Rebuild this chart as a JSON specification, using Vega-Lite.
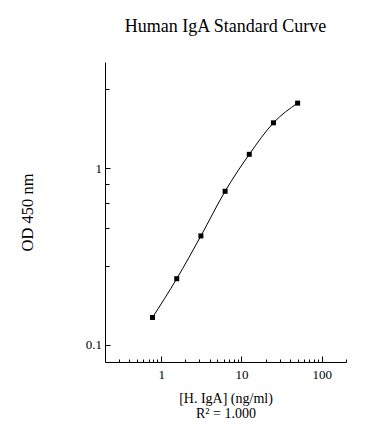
{
  "$schema": "https://vega.github.io/schema/vega-lite/v6.json",
  "width": 241,
  "height": 300,
  "autosize": {"type": "none"},
  "padding": {"left": 105, "top": 62, "right": 42, "bottom": 82},
  "background": "white",
  "title": {
    "text": "Human IgA Standard Curve",
    "font": "Liberation Serif",
    "fontSize": 18,
    "fontWeight": "normal",
    "color": "black",
    "anchor": "middle",
    "offset": 12,
    "baseline": "alphabetic"
  },
  "config": {
    "view": {"stroke": null},
    "axis": {
      "labelFont": "Liberation Serif",
      "titleFont": "Liberation Serif",
      "labelColor": "black",
      "titleColor": "black",
      "domainColor": "black",
      "tickColor": "black",
      "domainWidth": 1,
      "tickWidth": 1,
      "grid": false,
      "titleFontWeight": "normal",
      "labelOverlap": false,
      "labelFlush": false
    }
  },
  "data": {
    "values": [
      {"conc": 0.78125, "od": 0.143},
      {"conc": 1.5625, "od": 0.237},
      {"conc": 3.125, "od": 0.414},
      {"conc": 6.25, "od": 0.741},
      {"conc": 12.5, "od": 1.2},
      {"conc": 25, "od": 1.81},
      {"conc": 50, "od": 2.34}
    ]
  },
  "encoding": {
    "x": {
      "field": "conc",
      "type": "quantitative",
      "scale": {"type": "log", "domain": [0.2, 200]},
      "axis": {
        "values": [0.3, 0.4, 0.5, 0.6, 0.7, 0.8, 0.9, 1, 2, 3, 4, 5, 6, 7, 8, 9, 10, 20, 30, 40, 50, 60, 70, 80, 90, 100, 200],
        "tickSize": {"condition": {"test": "datum.value == 1 || datum.value == 10 || datum.value == 100", "value": -6}, "value": -3},
        "labelExpr": "datum.value == 1 || datum.value == 10 || datum.value == 100 ? '' + datum.value : ''",
        "labelFontSize": 13,
        "labelPadding": 12,
        "title": ["[H. IgA] (ng/ml)", "R² = 1.000"],
        "titleFontSize": 14,
        "titleLineHeight": 15,
        "titlePadding": 7
      }
    },
    "y": {
      "field": "od",
      "type": "quantitative",
      "scale": {"type": "log", "domain": [0.08, 4]},
      "axis": {
        "values": [0.1, 0.28, 0.46, 0.635, 0.81, 1, 2.8],
        "tickSize": {"condition": {"test": "datum.value == 1 || datum.value == 0.1", "value": -5}, "value": -4},
        "labelExpr": "datum.value == 1 || datum.value == 0.1 ? '' + datum.value : ''",
        "labelFontSize": 13,
        "labelPadding": 8.5,
        "title": "OD 450 nm",
        "titleFontSize": 16.5,
        "titlePadding": 50
      }
    }
  },
  "layer": [
    {"mark": {"type": "line", "interpolate": "monotone", "color": "black", "strokeWidth": 1}},
    {"mark": {"type": "point", "shape": "square", "filled": true, "color": "black", "size": 25, "opacity": 1}}
  ]
}
